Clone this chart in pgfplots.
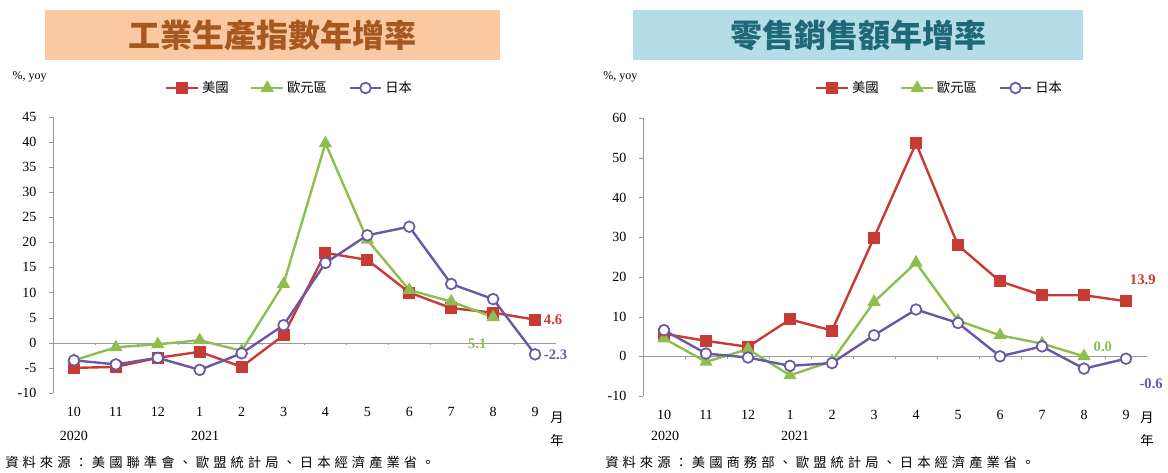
\documentclass[border=0pt]{standalone}
\usepackage{pgfplots}
\pgfplotsset{compat=1.18}
\usepackage{fontspec}
\setmainfont{Liberation Serif}
\newfontfamily\cjk{Noto Sans CJK TC}
\newfontfamily\cjksrc{Noto Sans CJK TC}[LetterSpace=30]
\definecolor{cUS}{HTML}{C83A34}
\definecolor{cEU}{HTML}{8DBE4E}
\definecolor{cJP}{HTML}{6A58A5}
\definecolor{peach}{HTML}{FAC9A2}
\definecolor{titlebrown}{HTML}{A5581F}
\definecolor{lblue}{HTML}{B4DDE8}
\definecolor{titleteal}{HTML}{1E6878}
\definecolor{axgray}{HTML}{999999}
\pgfplotsset{
  mystyle/.style={
    scale only axis,
    clip=false,
    xmin=-0.5, xmax=11.5,
    xtick={0,...,11},
    xticklabels={10,11,12,1,2,3,4,5,6,7,8,9},
    axis lines*=left,
    x axis line style={draw=none},
    xtick style={draw=none},
    y axis line style={axgray},
    ytick style={axgray},
    tick align=outside,
    major tick length=3pt,
    /pgf/number format/assume math mode=true,
    tick label style={font=\fontsize{10.5}{12}\selectfont},
    xticklabel style={yshift=-4pt},
    yticklabel style={xshift=-6pt},
    legend style={draw=none, fill=none, legend columns=3,
      font=\cjk\fontsize{10}{12}\selectfont,
      /tikz/every even column/.append style={column sep=14pt}},
    legend image code/.code={\draw[mark repeat=2,mark phase=2] plot coordinates {(0cm,0cm)(0.42cm,0cm)(0.84cm,0cm)};},
  },
  us/.style={cUS, line width=1.8pt, mark=square*, mark size=3.6pt, mark options={solid, fill=cUS}},
  eu/.style={cEU, line width=1.8pt, mark=triangle*, mark size=4pt, mark options={solid, fill=cEU}},
  jp/.style={cJP, line width=1.8pt, mark=*, mark size=4pt, mark options={solid, fill=white, line width=1.3pt}},
}
\begin{document}
\begin{tikzpicture}
\path[use as bounding box] (0pt,0pt) rectangle (876pt,354pt);
% title boxes
\fill[peach] (33.75pt,309pt) rectangle (375pt,346.5pt);
\node[text=titlebrown, font=\cjk\bfseries\fontsize{24}{28}\selectfont] at (204pt,327.75pt) {工業生產指數年增率};
\fill[lblue] (474.75pt,309pt) rectangle (812.25pt,346.5pt);
\node[text=titleteal, font=\cjk\bfseries\fontsize{24}{28}\selectfont] at (643.5pt,327.75pt) {零售銷售額年增率};
% left axis
\begin{axis}[mystyle,
  at={(39.75pt,59.25pt)}, anchor=south west,
  width=377.25pt, height=207.2pt,
  ymin=-10, ymax=45, ytick={-10,-5,...,45},
  legend style={at={(0.471,1.104)}, anchor=center}]
\draw[axgray] (axis cs:-0.5,0) -- (axis cs:11.5,0);
\pgfplotsinvokeforeach{0.5,1.5,2.5,3.5,4.5,5.5,6.5,7.5,8.5,9.5,10.5}{\draw[axgray] (axis cs:#1,0) -- ++(0pt,-2pt);}
\addplot[us] coordinates {(0,-5.0) (1,-4.8) (2,-3.0) (3,-1.8) (4,-4.8) (5,1.5) (6,17.9) (7,16.5) (8,10.0) (9,6.9) (10,6.0) (11,4.6)};
\addlegendentry{美國}
\addplot[eu] coordinates {(0,-3.5) (1,-0.9) (2,-0.3) (3,0.5) (4,-1.6) (5,11.7) (6,39.7) (7,20.5) (8,10.5) (9,8.2) (10,5.1)};
\addlegendentry{歐元區}
\addplot[jp] coordinates {(0,-3.5) (1,-4.3) (2,-3.0) (3,-5.4) (4,-2.1) (5,3.5) (6,15.9) (7,21.4) (8,23.1) (9,11.7) (10,8.7) (11,-2.3)};
\addlegendentry{日本}
\node[anchor=west, text=cUS, font=\bfseries\fontsize{11}{12}\selectfont] at (axis cs:11.1,4.6) {4.6};
\node[anchor=west, text=cJP, font=\bfseries\fontsize{11}{12}\selectfont] at (axis cs:11.1,-2.3) {-2.3};
\node[text=cEU, font=\bfseries\fontsize{11}{12}\selectfont] at (axis cs:9.62,-0.1) {5.1};
\end{axis}
% right axis
\begin{axis}[mystyle,
  at={(482.25pt,57pt)}, anchor=south west,
  width=378pt, height=208.3pt,
  ymin=-10, ymax=60, ytick={-10,0,...,60},
  legend style={at={(0.589,1.109)}, anchor=center}]
\draw[axgray] (axis cs:-0.5,0) -- (axis cs:11.5,0);
\pgfplotsinvokeforeach{0.5,1.5,2.5,3.5,4.5,5.5,6.5,7.5,8.5,9.5,10.5}{\draw[axgray] (axis cs:#1,0) -- ++(0pt,-2pt);}
\addplot[us] coordinates {(0,5.7) (1,3.9) (2,2.4) (3,9.3) (4,6.5) (5,29.9) (6,53.7) (7,28.0) (8,18.9) (9,15.4) (10,15.4) (11,13.9)};
\addlegendentry{美國}
\addplot[eu] coordinates {(0,4.5) (1,-1.4) (2,1.8) (3,-4.8) (4,-1.2) (5,13.7) (6,23.6) (7,9.0) (8,5.3) (9,3.2) (10,0.0)};
\addlegendentry{歐元區}
\addplot[jp] coordinates {(0,6.6) (1,0.7) (2,-0.3) (3,-2.4) (4,-1.7) (5,5.3) (6,11.8) (7,8.4) (8,0.0) (9,2.5) (10,-3.1) (11,-0.6)};
\addlegendentry{日本}
\node[text=cUS, font=\bfseries\fontsize{11}{12}\selectfont] at (axis cs:11.4,19.2) {13.9};
\node[text=cEU, font=\bfseries\fontsize{11}{12}\selectfont] at (axis cs:10.45,2.5) {0.0};
\node[text=cJP, font=\bfseries\fontsize{11}{12}\selectfont] at (axis cs:11.6,-6.8) {-0.6};
\end{axis}
% y units
\node[anchor=west, font=\fontsize{9}{10}\selectfont] at (6pt,296.25pt) {\%, yoy};
\node[anchor=west, font=\fontsize{9}{10}\selectfont] at (449pt,296.25pt) {\%, yoy};
% years
\node[font=\fontsize{10.5}{12}\selectfont] at (55.5pt,27pt) {2020};
\node[font=\fontsize{10.5}{12}\selectfont] at (153.75pt,27pt) {2021};
\node[font=\fontsize{10.5}{12}\selectfont] at (498.75pt,27pt) {2020};
\node[font=\fontsize{10.5}{12}\selectfont] at (596.25pt,27pt) {2021};
% month / year
\node[font=\cjk\fontsize{10}{12}\selectfont] at (417.75pt,40.5pt) {月};
\node[font=\cjk\fontsize{10}{12}\selectfont] at (417.75pt,24pt) {年};
\node[font=\cjk\fontsize{10}{12}\selectfont] at (860.25pt,40.5pt) {月};
\node[font=\cjk\fontsize{10}{12}\selectfont] at (860.25pt,24pt) {年};
% sources
\node[anchor=west, inner sep=0pt, font=\cjksrc\fontsize{10}{12}\selectfont] at (3.75pt,7.5pt) {資料來源：美國聯準會、歐盟統計局、日本經濟產業省。};
\node[anchor=west, inner sep=0pt, font=\cjksrc\fontsize{10}{12}\selectfont] at (453.75pt,7.5pt) {資料來源：美國商務部、歐盟統計局、日本經濟產業省。};
\end{tikzpicture}
\end{document}
